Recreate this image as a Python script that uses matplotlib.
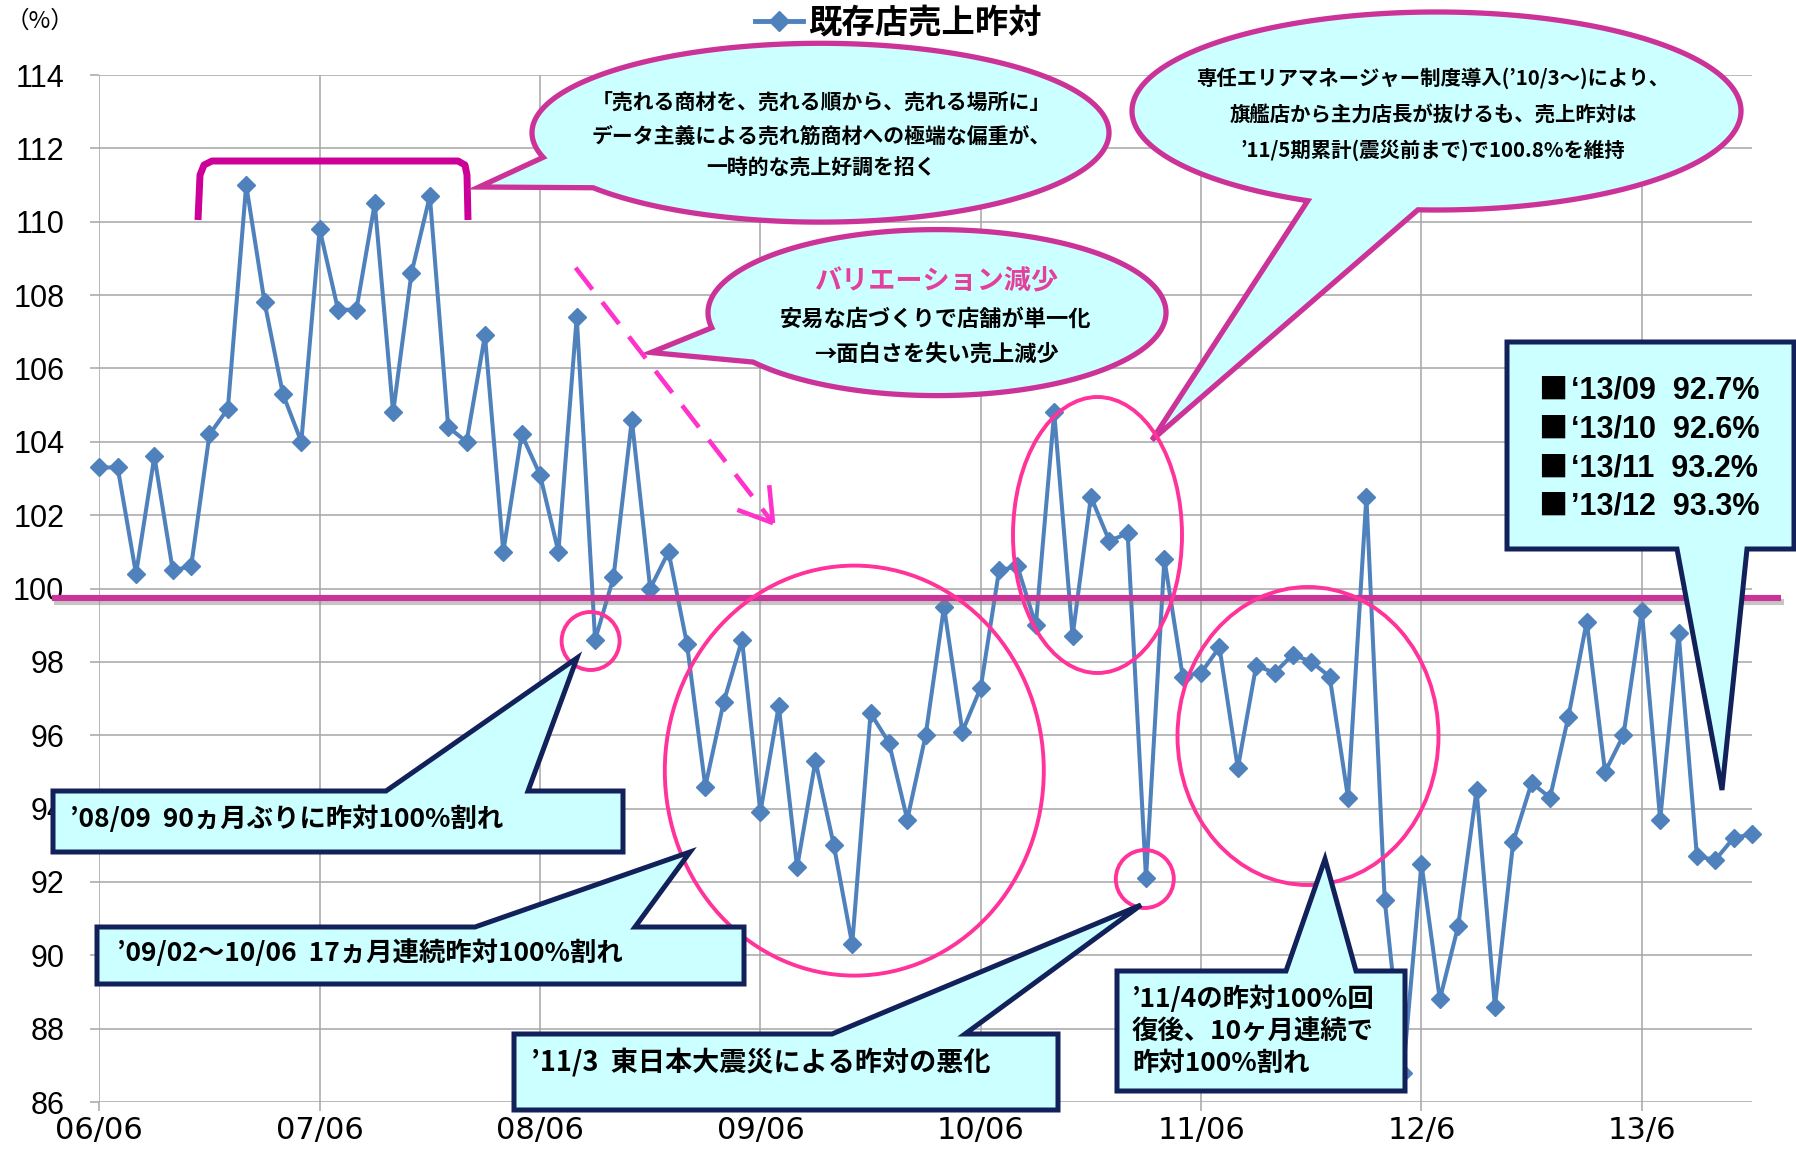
import numpy as np
import matplotlib
matplotlib.use("Agg")
import matplotlib.pyplot as plt
from matplotlib.patches import Polygon, Ellipse
from matplotlib.lines import Line2D
import matplotlib.patheffects as pe

# ---------------- data ----------------
yoy_sales = [103.3, 103.3, 100.4, 103.6, 100.5, 100.6, 104.2, 104.9, 111.0, 107.8, 105.3, 104.0,
             109.8, 107.6, 107.6, 110.5, 104.8, 108.6, 110.7, 104.4, 104.0, 106.9, 101.0, 104.2,
             103.1, 101.0, 107.4, 98.6, 100.3, 104.6, 100.0, 101.0, 98.5, 94.6, 96.9, 98.6,
             93.9, 96.8, 92.4, 95.3, 93.0, 90.3, 96.6, 95.8, 93.7, 96.0, 99.5, 96.1,
             97.3, 100.5, 100.6, 99.0, 104.8, 98.7, 102.5, 101.3, 101.5, 92.1, 100.8, 97.6,
             97.7, 98.4, 95.1, 97.9, 97.7, 98.2, 98.0, 97.6, 94.3, 102.5, 91.5, 86.8,
             92.5, 88.8, 90.8, 94.5, 88.6, 93.1, 94.7, 94.3, 96.5, 99.1, 95.0, 96.0,
             99.4, 93.7, 98.8, 92.7, 92.6, 93.2, 93.3]
tick_labels = ["06/06", "07/06", "08/06", "09/06", "10/06", "11/06", "12/6", "13/6"]
series_name = "既存店売上昨対"
y_ticks = list(range(86, 115, 2))
target_level = 99.75
latest_labels = ["‘13/09", "‘13/10", "‘13/11", "’13/12"]
latest_values = ["92.7%", "92.6%", "93.2%", "93.3%"]

W, H = 1796, 1152
CJK = ["Noto Sans CJK JP", "DejaVu Sans"]
LAT = ["Liberation Sans", "DejaVu Sans"]

fig = plt.figure(figsize=(W / 100, H / 100), dpi=100)
ax = fig.add_axes([99.3 / W, 1 - 1102 / H, (1752 - 99.3) / W, (1102 - 75) / H])

months = np.arange(len(yoy_sales))
BLUE = "#4F81BD"
ax.plot(months, yoy_sales, color=BLUE, lw=2.9, marker="D", ms=9.5, mfc=BLUE, mec=BLUE,
        zorder=5, clip_on=False)

ax.set_xlim(0, len(yoy_sales) - 1)
ax.set_ylim(86, 114)
ax.set_xticks(np.arange(0, len(yoy_sales), 12))
ax.set_xticklabels(tick_labels, family=["DejaVu Sans"], fontsize=22)
ax.set_yticks(y_ticks)
ax.set_yticklabels([str(v) for v in y_ticks], family=LAT, fontsize=22)
ax.grid(True, color="#A6A6A6", lw=1.1)
ax.set_axisbelow(True)
for s in ax.spines.values():
    s.set_visible(False)
ax.tick_params(axis="y", length=6.2, width=1.1, color="#A6A6A6", pad=19)
ax.tick_params(axis="x", length=6.2, width=1.1, color="#A6A6A6", pad=4)

# target line (slightly below 100)
ax.plot([-2.6, len(yoy_sales) + 0.6], [target_level, target_level], color="#CC3399", lw=4.4,
        zorder=6, clip_on=False, solid_capstyle="butt",
        path_effects=[pe.SimpleLineShadow(offset=(2, -3), shadow_color="#808080", alpha=0.45),
                      pe.Normal()])

# legend at top
leg = ax.legend(handles=[Line2D([], [], color=BLUE, lw=3.5, marker="D", ms=10)],
                labels=[series_name], loc="center left",
                bbox_to_anchor=(755 / W, 1 - 23 / H), bbox_transform=fig.transFigure,
                frameon=False, handlelength=1.45, handletextpad=0.15, borderpad=0,
                borderaxespad=0, prop={"family": CJK, "weight": "bold", "size": 24})

fig.text(6 / W, 1 - 21 / H, "（%）", family=CJK, fontsize=17, ha="left", va="center")

# ---------------- overlay for annotations (reference pixel coords) ----------------
ov = fig.add_axes([0, 0, 1, 1], zorder=10)
ov.set_xlim(0, W)
ov.set_ylim(H, 0)
ov.axis("off")
ov.patch.set_alpha(0)

CYAN = "#CCFFFF"
MAG = "#CC3399"
PINK = "#FF3399"
NAVY = "#12215A"


def ellipse_callout(cx, cy, a, b, t1, t2, tip, ec=MAG, lw=3.8):
    th = np.linspace(np.radians(t2), np.radians(t1) + 2 * np.pi, 400)
    pts = np.column_stack([cx + a * np.cos(th), cy + b * np.sin(th)])
    pts = np.vstack([pts, tip])
    ov.add_patch(Polygon(pts, closed=True, fc=CYAN, ec=ec, lw=lw, joinstyle="miter", zorder=3))


def box_callout(x0, y0, x1, y1, xl, xr, tip, side="top", lw=3.6):
    if side == "top":
        pts = [(x0, y0), (xl, y0), tip, (xr, y0), (x1, y0), (x1, y1), (x0, y1)]
    else:
        pts = [(x0, y0), (x1, y0), (x1, y1), (xr, y1), tip, (xl, y1), (x0, y1)]
    ov.add_patch(Polygon(pts, closed=True, fc=CYAN, ec=NAVY, lw=lw, joinstyle="miter", zorder=4))


def lines(x, ys, texts, size, ha="center", color="black", weight="bold"):
    for y, t in zip(ys, texts):
        ov.text(x, y, t, family=CJK, fontsize=size, ha=ha, va="center", color=color,
                weight=weight, zorder=6)


# bracket over the boom period
ov.plot([198, 200, 204, 212, 458, 465, 467, 468], [220, 175, 165, 161, 161, 165, 175, 220],
        color="#CC0099", lw=5, solid_joinstyle="round", solid_capstyle="butt", zorder=3)

# callout 1
ellipse_callout(820.5, 132.7, 288.5, 89.4, 142, 164, (479, 187))
lines(821, [101.7, 136, 168.5],
      ["「売れる商材を、売れる順から、売れる場所に」",
       "データ主義による売れ筋商材への極端な偏重が、",
       "一時的な売上好調を招く"], 15)

# callout 2
ellipse_callout(937, 312.6, 229, 83, 143.4, 169.5, (651, 352.5))
lines(936, [281], ["バリエーション減少"], 19.5, color="#E2409C")
lines(936, [319, 354], ["安易な店づくりで店舗が単一化", "→面白さを失い売上減少"], 16)

# callout 3
ellipse_callout(1436.5, 111, 304.5, 99, 93.5, 115, (1152, 440))
lines(1433, [78, 114.5, 150],
      ["専任エリアマネージャー制度導入(’10/3～)により、",
       "旗艦店から主力店長が抜けるも、売上昨対は",
       "’11/5期累計(震災前まで)で100.8%を維持"], 14.7)

# dashed trend arrow
p0 = np.array([575.6, 267.7])
p1 = np.array([773.0, 523.0])
ov.plot([p0[0], p1[0]], [p0[1], p1[1]], color="#FF33CC", lw=3.3, ls=(0, (6, 3.5)), zorder=3)
u = (p0 - p1) / np.linalg.norm(p0 - p1)
for ang in (32, -32):
    r = np.radians(ang)
    v = np.array([u[0] * np.cos(r) - u[1] * np.sin(r), u[0] * np.sin(r) + u[1] * np.cos(r)])
    q = p1 + 38 * v
    ov.plot([p1[0], q[0]], [p1[1], q[1]], color="#FF33CC", lw=3.3, solid_capstyle="butt", zorder=3)

# pink circles
for (cx, cy, w, h) in [(590.6, 641, 58, 58), (854.3, 770.6, 379, 410), (1097.5, 535, 169, 276),
                       (1144.8, 879, 58, 58), (1308, 736, 261, 298)]:
    ov.add_patch(Ellipse((cx, cy), w, h, fill=False, ec=PINK, lw=2.8, zorder=3.5))

# rectangular callouts
box_callout(53, 791, 623, 852, 386, 528, (577, 658))
lines(70, [819.5], ["’08/09  90ヵ月ぶりに昨対100%割れ"], 19, ha="left")

box_callout(97, 927, 744, 984, 475, 635, (690, 852))
lines(117, [953], ["’09/02～10/06  17ヵ月連続昨対100%割れ"], 19, ha="left")

box_callout(514, 1034, 1058, 1110, 832, 965, (1141, 905))
lines(531, [1062], ["’11/3  東日本大震災による昨対の悪化"], 19.5, ha="left")

box_callout(1117, 971, 1405, 1091, 1286, 1356, (1325, 859))
lines(1132, [999, 1032, 1063.5], ["’11/4の昨対100%回", "復後、10ヶ月連続で", "昨対100%割れ"],
      19, ha="left")

box_callout(1507, 342, 1794, 549, 1677, 1747, (1722, 790), side="bottom")
for y, lab, val in zip([390.7, 430, 468.3, 506.7], latest_labels, latest_values):
    ov.text(1538, y, "■", family=CJK, fontsize=21, ha="left", va="center", zorder=6)
    ov.text(1571, y, lab + "  " + val, family=LAT, fontsize=22, weight="bold",
            ha="left", va="center", zorder=6)

fig.savefig("out.png", dpi=100)
